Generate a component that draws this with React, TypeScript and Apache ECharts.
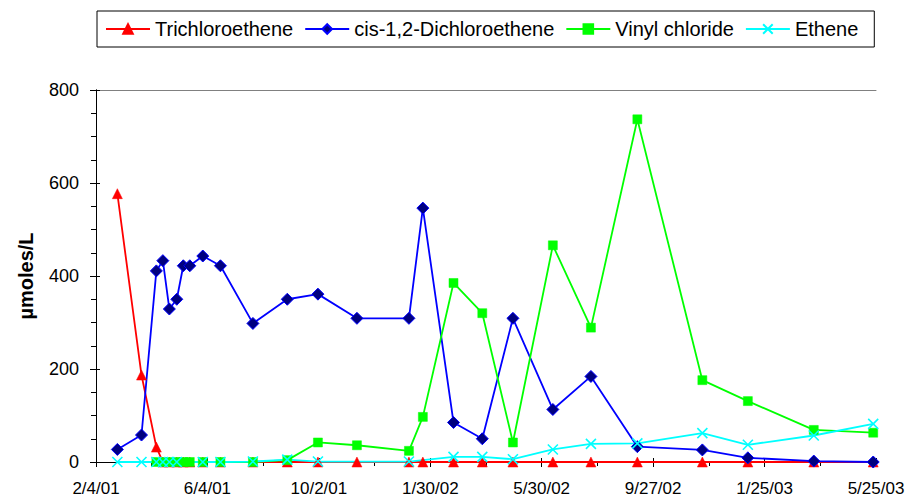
import React, { useEffect, useRef } from "react";
import * as echarts from "echarts";

const sampleDates = [
  "2001-02-27", "2001-03-25", "2001-04-10", "2001-04-17", "2001-04-24",
  "2001-05-02", "2001-05-09", "2001-05-16", "2001-05-30", "2001-06-18",
  "2001-07-23", "2001-08-29", "2001-10-01", "2001-11-12", "2002-01-07",
  "2002-01-22", "2002-02-24", "2002-03-27", "2002-04-29", "2002-06-11",
  "2002-07-22", "2002-09-10", "2002-11-19", "2003-01-07", "2003-03-19",
  "2003-05-22",
];

const trichloroethene = [577, 187, 32, 0, 0, 0, 0, 0, 0, 0, 0, 0, 0, 0, 0, 0, 0, 0, 0, 0, 0, 0, 0, 0, 0, 0];
const dichloroethene = [27, 58, 411, 433, 329, 350, 422, 422, 443, 422, 298, 350, 361, 309, 309, 546, 85, 50, 309, 113, 184, 33, 26, 9, 2, 0];
const vinylChloride = [null, null, 0, 0, 0, 0, 0, 0, 0, 0, 0, 4, 42, 36, 24, 97, 385, 320, 42, 466, 289, 737, 176, 131, 69, 63];
const ethene = [0, 0, 0, 0, 0, 0, null, null, 0, 0, 1, 5, 1, null, 1, null, 11, 11, 6, 27, 39, 40, 62, 37, 57, 82];

const xTickLabels = ["2/4/01", "6/4/01", "10/2/01", "1/30/02", "5/30/02", "9/27/02", "1/25/03", "5/25/03"];
const yTickStep = 200;
const yMax = 800;
const startDate = "2001-02-04";
const dayStep = 120;

function dayOf(s: string) {
  const [a, b, c] = startDate.split("-").map(Number);
  const [y, m, d] = s.split("-").map(Number);
  return Math.round((Date.UTC(y, m - 1, d) - Date.UTC(a, b - 1, c)) / 86400000);
}

function pairs(vals: (number | null)[]) {
  const out: number[][] = [];
  vals.forEach((v, i) => {
    if (v !== null && v !== undefined) out.push([dayOf(sampleDates[i]), v]);
  });
  return out;
}

const FONT = "'Liberation Sans', Arial, sans-serif";

export default function App() {
  const ref = useRef<HTMLDivElement>(null);
  useEffect(() => {
    if (!ref.current) return;
    const chart = echarts.init(ref.current, null, { renderer: "svg" });
    const maxDay = dayStep * (xTickLabels.length - 1);
    const hidden = { show: false };
    const option: any = {
      animation: false,
      backgroundColor: "#ffffff",
      legend: {
        left: 97,
        top: 11,
        padding: [8, 16, 8, 8],
        itemGap: 11,
        itemWidth: 44,
        itemHeight: 12,
        borderColor: "#000000",
        borderWidth: 1,
        textStyle: { fontSize: 20, fontFamily: FONT, color: "#000" },
        data: ["Trichloroethene", "cis-1,2-Dichloroethene", "Vinyl chloride", "Ethene"],
      },
      grid: { left: 96, top: 90, right: 38, bottom: 37, containLabel: false },
      xAxis: [
        {
          type: "value", min: 0, max: maxDay, interval: dayStep, position: "bottom",
          axisLine: { show: true, lineStyle: { color: "#000", width: 1 } },
          axisTick: { show: true, inside: false, length: 5, lineStyle: { color: "#000" } },
          splitLine: hidden,
          axisLabel: {
            show: true, margin: 18, fontSize: 17, fontFamily: FONT, color: "#000",
            showMinLabel: true, showMaxLabel: true,
            formatter: (v: number) => xTickLabels[Math.round(v / dayStep)] ?? "",
          },
        },
        {
          type: "value", min: 0, max: maxDay, interval: dayStep, position: "bottom",
          axisLine: hidden, axisLabel: hidden, splitLine: hidden,
          axisTick: { show: true, inside: true, length: 4, lineStyle: { color: "#000" } },
        },
        {
          type: "value", min: 30, max: maxDay + 30, interval: 60, position: "bottom",
          axisLine: hidden, axisLabel: hidden, splitLine: hidden,
          axisTick: { show: true, inside: false, length: 4, lineStyle: { color: "#000" } },
        },
        {
          type: "value", min: 0, max: maxDay, position: "top",
          axisLine: { show: true, lineStyle: { color: "#808080", width: 1 } },
          axisTick: hidden, axisLabel: hidden, splitLine: hidden,
        },
      ],
      yAxis: [
        {
          type: "value", min: 0, max: yMax, interval: yTickStep, position: "left",
          name: "µmoles/L", nameLocation: "middle", nameGap: 60,
          nameTextStyle: { fontSize: 20, fontWeight: "bold", fontFamily: FONT, color: "#000" },
          axisLine: { show: true, lineStyle: { color: "#000", width: 1 } },
          axisTick: { show: true, inside: false, length: 6, lineStyle: { color: "#000" } },
          minorTick: { show: true, splitNumber: 4, length: 5, lineStyle: { color: "#000" } },
          splitLine: hidden, minorSplitLine: hidden,
          axisLabel: { margin: 17, fontSize: 18, fontFamily: FONT, color: "#000" },
        },
        {
          type: "value", min: 0, max: yMax, interval: yTickStep, position: "left",
          axisLine: hidden, axisLabel: hidden, splitLine: hidden,
          axisTick: { show: true, inside: true, length: 4, lineStyle: { color: "#000" } },
        },
        {
          type: "value", min: 0, max: yMax, position: "right",
          axisLine: { show: true, lineStyle: { color: "#000", width: 1 } },
          axisTick: hidden, axisLabel: hidden, splitLine: hidden,
        },
      ],
      series: [
        {
          name: "Trichloroethene", type: "line", data: pairs(trichloroethene),
          symbol: "triangle", symbolSize: 10, clip: false,
          lineStyle: { color: "#ff0000", width: 1.8 },
          itemStyle: { color: "#ff0000", borderColor: "#ff0000", borderWidth: 0.5 },
        },
        {
          name: "cis-1,2-Dichloroethene", type: "line", data: pairs(dichloroethene),
          symbol: "diamond", symbolSize: 12, clip: false,
          lineStyle: { color: "#0000ff", width: 1.8 },
          itemStyle: { color: "#000080", borderColor: "#0000ff", borderWidth: 1 },
        },
        {
          name: "Vinyl chloride", type: "line", data: pairs(vinylChloride),
          symbol: "rect", symbolSize: 9, clip: false,
          lineStyle: { color: "#00ff00", width: 1.8 },
          itemStyle: { color: "#00ff00", borderColor: "#00ff00", borderWidth: 0.5 },
        },
        {
          name: "Ethene", type: "line", data: pairs(ethene),
          symbol: "path://M0,0L10,10M10,0L0,10", symbolSize: 10, clip: false,
          lineStyle: { color: "#00ffff", width: 1.8 },
          itemStyle: { color: "#00ffff", borderColor: "#00ffff", borderWidth: 1.6 },
        },
      ],
    };
    chart.setOption(option);
    return () => chart.dispose();
  }, []);
  return (
    <div
      ref={ref}
      style={{ position: "fixed", left: 0, top: 0, width: 914, height: 499, background: "#fff" }}
    />
  );
}
